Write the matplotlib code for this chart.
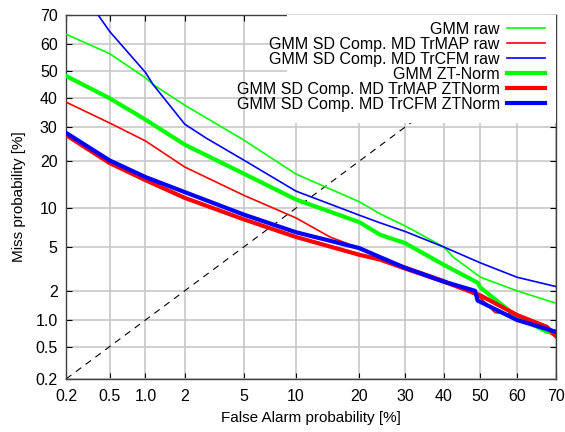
import math
import numpy as np
import matplotlib
matplotlib.use("Agg")
import matplotlib.pyplot as plt
from matplotlib.patches import Rectangle

plt.rcParams['font.family'] = ['Liberation Sans', 'DejaVu Sans']
plt.rcParams['font.size'] = 11

# DET curves, values in percent
gmm_raw_fa = [0.2, 0.5, 1.0, 1.15, 2, 5, 10, 20, 24.3, 30, 33.7, 40, 42.5, 50, 60, 70]
gmm_raw_miss = [63.5, 56.5, 47.5, 45.0, 37.5, 26.0, 16.8, 11.1, 9.1, 7.4, 6.4, 5.0, 4.1, 2.7, 2.0, 1.5]

trmap_raw_fa = [0.2, 0.5, 1.0, 2, 5, 10, 14.8, 20, 24.3, 30, 40, 46.3, 50, 54, 60, 70]
trmap_raw_miss = [38.6, 31.4, 25.7, 18.5, 12.3, 8.5, 6.05, 4.9, 4.05, 3.4, 2.55, 2.0, 1.7, 1.2, 1.13, 0.65]

trcfm_raw_fa = [0.33, 0.5, 1.0, 1.15, 2, 2.83, 5, 10, 20, 24.3, 30, 40, 50, 60, 70]
trcfm_raw_miss = [74, 64.5, 49.5, 45.0, 31.0, 26.6, 20.3, 13.1, 8.9, 7.8, 6.7, 5.0, 3.65, 2.7, 2.2]

gmm_zt_fa = [0.2, 0.5, 1.0, 2, 5, 10, 20, 24.3, 30, 40, 49.2, 50, 60, 67.8, 70]
gmm_zt_miss = [48.2, 40.0, 32.5, 24.6, 16.9, 11.5, 7.9, 6.3, 5.4, 3.5, 2.4, 2.15, 1.08, 0.74, 0.72]

trmap_zt_fa = [0.2, 0.5, 1.0, 2, 5, 10, 20, 24.3, 30, 40, 50, 60, 67.8, 70]
trmap_zt_miss = [27.5, 19.5, 15.4, 11.8, 8.3, 6.05, 4.3, 3.9, 3.25, 2.45, 1.8, 1.13, 0.84, 0.66]

trcfm_zt_fa = [0.2, 0.5, 1.0, 2, 5, 10, 20, 24.3, 30, 40, 48.5, 49.2, 60, 70]
trcfm_zt_miss = [28.2, 20.2, 16.1, 12.9, 9.0, 6.6, 4.9, 4.1, 3.3, 2.45, 2.0, 1.6, 1.0, 0.74]

ticks = [0.2, 0.5, 1.0, 2, 5, 10, 20, 30, 40, 50, 60, 70]
tick_labels = ["0.2", "0.5", "1.0", "2", "5", "10", "20", "30", "40", "50", "60", "70"]


# probit scale (normal deviate), Acklam's approximation for the inverse
A = [-3.969683028665376e+01, 2.209460984245205e+02, -2.759285104469687e+02,
     1.383577518672690e+02, -3.066479806614716e+01, 2.506628277459239e+00]
B = [-5.447609879822406e+01, 1.615858368580409e+02, -1.556989798598866e+02,
     6.680131188771972e+01, -1.328068155288572e+01]
C = [-7.784894002430293e-03, -3.223964580411365e-01, -2.400758277161838e+00,
     -2.549732539343734e+00, 4.374664141464968e+00, 2.938163982698783e+00]
D = [7.784695709041462e-03, 3.224671290700398e-01, 2.445134137142996e+00,
     3.754408661907416e+00]


def _tail(q):
	num = ((((C[0]*q + C[1])*q + C[2])*q + C[3])*q + C[4])*q + C[5]
	den = (((D[0]*q + D[1])*q + D[2])*q + D[3])*q + 1
	return num/den


def ppf(p):
	p = np.clip(np.asarray(p, dtype=float), 1e-9, 1 - 1e-9)
	out = np.empty_like(p)
	lo = p < 0.02425
	hi = p > 1 - 0.02425
	mid = ~(lo | hi)
	q = p[mid] - 0.5
	r = q*q
	out[mid] = (((((A[0]*r + A[1])*r + A[2])*r + A[3])*r + A[4])*r + A[5])*q / \
		(((((B[0]*r + B[1])*r + B[2])*r + B[3])*r + B[4])*r + 1)
	out[lo] = _tail(np.sqrt(-2*np.log(p[lo])))
	out[hi] = -_tail(np.sqrt(-2*np.log(1 - p[hi])))
	return out


_erf = np.vectorize(math.erf)


def forward(x):
	return ppf(np.asarray(x, dtype=float)/100.0)


def inverse(y):
	y = np.asarray(y, dtype=float)
	return 100.0*0.5*(1 + _erf(y/np.sqrt(2)))


fig = plt.figure(figsize=(5.65, 4.32), dpi=100)
ax = fig.add_axes([66/565, 1 - 379/432, 490/565, 364/432])
ax.set_xscale('function', functions=(forward, inverse))
ax.set_yscale('function', functions=(forward, inverse))

ax.plot([0.2, 70], [0.2, 70], color='black', lw=0.8, dashes=(6, 5), zorder=2)

thin = 1.2
thick = 3.0
ax.plot(gmm_raw_fa, gmm_raw_miss, color='#00ff00', lw=thin, label='GMM raw', zorder=3)
ax.plot(trmap_raw_fa, trmap_raw_miss, color='#ff0000', lw=thin, label='GMM SD Comp. MD TrMAP raw', zorder=3)
ax.plot(trcfm_raw_fa, trcfm_raw_miss, color='#0000ff', lw=thin, label='GMM SD Comp. MD TrCFM raw', zorder=3)
ax.plot(gmm_zt_fa, gmm_zt_miss, color='#00ff00', lw=thick, label='GMM ZT-Norm', zorder=3)
ax.plot(trmap_zt_fa, trmap_zt_miss, color='#ff0000', lw=thick, label='GMM SD Comp. MD TrMAP ZTNorm', zorder=3)
ax.plot(trcfm_zt_fa, trcfm_zt_miss, color='#0000ff', lw=thick, label='GMM SD Comp. MD TrCFM ZTNorm', zorder=3)

ax.set_xlim(0.2, 70)
ax.set_ylim(0.2, 70)
ax.set_xticks(ticks)
ax.set_xticklabels(tick_labels)
ax.set_yticks(ticks)
ax.set_yticklabels(tick_labels)
ax.minorticks_off()
ax.tick_params(direction='in', top=True, right=True, length=4, width=0.8, labelsize=11.5)
ax.tick_params(axis='x', pad=7)
ax.tick_params(axis='y', pad=6)
ax.grid(True, color='#c8c8c8', lw=1.2)
ax.set_axisbelow(True)
for s in ax.spines.values():
	s.set_color('#404040')
	s.set_linewidth(1.0)

# opaque key area
ax.add_patch(Rectangle((0.451, 0.703), 0.549, 0.297, transform=ax.transAxes,
		facecolor='white', edgecolor='none', zorder=4))

leg = ax.legend(loc='upper right', bbox_to_anchor=(0.978, 0.982), frameon=False,
		markerfirst=False, borderaxespad=0, borderpad=0, handlelength=2.4,
		handletextpad=0.45, labelspacing=0.0, fontsize=11.5)
leg.set_zorder(5)

ax.set_xlabel("False Alarm probability [%]", fontsize=11, labelpad=5)
ax.set_ylabel("Miss probability [%]", fontsize=11, labelpad=7)

plt.savefig("out.png", dpi=100)
